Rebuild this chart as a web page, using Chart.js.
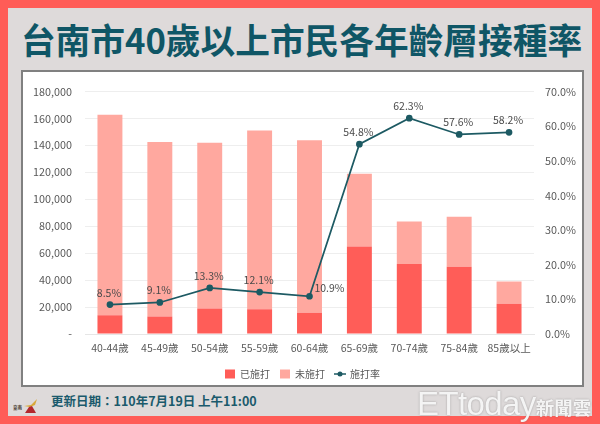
<!DOCTYPE html>
<html>
<head>
<meta charset="utf-8">
<script src="https://cdn.jsdelivr.net/npm/chart.js@4"></script>
<style>
html, body { margin: 0; padding: 0; }
body { width: 600px; height: 424px; background: #ff5c57; position: relative; overflow: hidden; font-family: "Noto Sans CJK TC", sans-serif; }
#panel { position: absolute; left: 8px; top: 8px; width: 584px; height: 408px; background: #dedada; }
#title { position: absolute; left: 0; top: 15px; width: 603px; text-align: center; font-size: 34.7px; line-height: 48px; font-weight: 700; color: #0f5666; white-space: nowrap; }
#box { position: absolute; left: 21px; top: 70px; width: 559px; height: 313px; background: #fff; border: 2px solid #808080; }
#chart { position: absolute; left: 0; top: 0; }
#update { position: absolute; left: 51px; top: 391px; font-size: 12.5px; line-height: 20px; font-weight: 700; color: #1b5a6c; white-space: nowrap; }
#logo { position: absolute; left: 13px; top: 399px; }
#watermark { position: absolute; left: 417px; top: 386px; font-family: "Liberation Sans", sans-serif; font-size: 33px; line-height: 36px; color: #f4f4f4; white-space: nowrap; letter-spacing: -0.6px; text-shadow: 0 0 2px rgba(90,90,90,.5); }
#watermark span { font-family: "Noto Sans CJK TC", sans-serif; font-size: 18.5px; font-weight: 700; letter-spacing: 0; }
</style>
</head>
<body>
<div id="panel"></div>
<div id="title">台南市40歲以上市民各年齡層接種率</div>
<div id="box"><canvas id="chart" width="559" height="317"></canvas></div>
<svg id="logo" width="25" height="15" viewBox="0 0 25 15">
    <text x="0" y="10" font-size="4.5" font-weight="700" fill="#4a3a30">臺南</text>
    <path d="M11 7 L18 6 L24 0 L22 6 L17 8 Z" fill="#d8a83a"/>
    <path d="M12 14 L16 8 L19 7 L23 14 Z" fill="#b3282d"/>
</svg>
<div id="update">更新日期：110年7月19日 上午11:00</div>
<div id="watermark">ETtoday<span>新聞雲</span></div>
<script>
var categories = ['40-44歲', '45-49歲', '50-54歲', '55-59歲', '60-64歲', '65-69歲', '70-74歲', '75-84歲', '85歲以上'];
var vaccinated = [14000, 13000, 19000, 18300, 15700, 65000, 52000, 50000, 22500];
var unvaccinated = [148800, 129500, 123000, 132700, 128100, 54000, 31500, 37000, 16500];
var rate = [8.5, 9.1, 13.3, 12.1, 10.9, 54.8, 62.3, 57.6, 58.2];

var font = '"Noto Sans CJK TC", sans-serif';
var teal = '#1d5a63';

// legend icon for the line: short stroke with a dot
var lineIcon = document.createElement('canvas');
lineIcon.width = 12;
lineIcon.height = 8;
var ic = lineIcon.getContext('2d');
ic.strokeStyle = teal;
ic.lineWidth = 1.5;
ic.beginPath();
ic.moveTo(0, 4);
ic.lineTo(12, 4);
ic.stroke();
ic.fillStyle = teal;
ic.beginPath();
ic.arc(6, 4, 2.5, 0, Math.PI * 2);
ic.fill();

// labels over the rate line
var rateLabels = {
    id: 'rateLabels',
    afterDatasetsDraw: function(chart) {
        var ctx = chart.ctx;
        var pts = chart.getDatasetMeta(2).data;
        ctx.save();
        ctx.font = '10.5px ' + font;
        ctx.fillStyle = '#4a4a4a';
        ctx.textBaseline = 'middle';
        ctx.textAlign = 'center';
        pts.forEach(function(p, i) {
            var txt = rate[i].toFixed(1) + '%';
            if (i === 4) {
                ctx.fillText(txt, p.x + 20, p.y - 8);
            } else {
                ctx.fillText(txt, p.x - 1, p.y - 12);
            }
        });
        ctx.restore();
    }
};

var chart = new Chart(document.getElementById('chart').getContext('2d'), {
    type: 'bar',
    data: {
        labels: categories,
        datasets: [
            { label: '已施打', data: vaccinated, backgroundColor: '#ff5d58', stack: 's', yAxisID: 'y', order: 2 },
            { label: '未施打', data: unvaccinated, backgroundColor: '#ffa89f', stack: 's', yAxisID: 'y', order: 2 },
            { type: 'line', label: '施打率', data: rate, yAxisID: 'y1', order: 1, borderColor: teal, backgroundColor: teal, borderWidth: 1.7, pointRadius: 2.5, pointHoverRadius: 2.5, tension: 0, pointStyle: 'circle' }
        ]
    },
    options: {
        responsive: false,
        animation: false,
        layout: { padding: { top: 19, left: 0, right: 0, bottom: 0 } },
        datasets: { bar: { barPercentage: 0.5, categoryPercentage: 1 } },
        plugins: {
            tooltip: { enabled: false },
            legend: {
                position: 'bottom',
                labels: {
                    usePointStyle: true,
                    font: { size: 10, family: font },
                    color: '#595959',
                    boxHeight: 9,
                    pointStyleWidth: 10,
                    padding: 10,
                    sort: function(a, b) { return a.datasetIndex - b.datasetIndex; },
                    generateLabels: function(c) {
                        var items = Chart.defaults.plugins.legend.labels.generateLabels(c);
                        items.forEach(function(it) {
                            it.pointStyle = it.datasetIndex === 2 ? lineIcon : 'rect';
                        });
                        return items;
                    }
                }
            }
        },
        scales: {
            x: {
                stacked: true,
                grid: { display: false },
                border: { color: '#e6e6e6' },
                afterFit: function(s) { s.height = 25; },
                ticks: { color: '#595959', font: { size: 10.5, family: font }, maxRotation: 0, autoSkip: false, padding: 0 }
            },
            y: {
                stacked: true,
                min: 0,
                max: 180000,
                grid: { color: '#eeeeee', drawTicks: false },
                border: { display: false },
                afterFit: function(s) { s.width = 62; },
                ticks: {
                    stepSize: 20000,
                    color: '#595959',
                    font: { size: 10.8, family: font },
                    padding: 13,
                    callback: function(v) { return v === 0 ? '-' : v.toLocaleString('en-US'); }
                }
            },
            y1: {
                position: 'right',
                min: 0,
                max: 70,
                grid: { display: false },
                border: { display: false },
                afterFit: function(s) { s.width = 48; },
                ticks: {
                    stepSize: 10,
                    color: '#595959',
                    font: { size: 10.8, family: font },
                    padding: 3,
                    callback: function(v) { return v.toFixed(1) + '%'; }
                }
            }
        }
    },
    plugins: [rateLabels]
});
</script>
</body>
</html>
